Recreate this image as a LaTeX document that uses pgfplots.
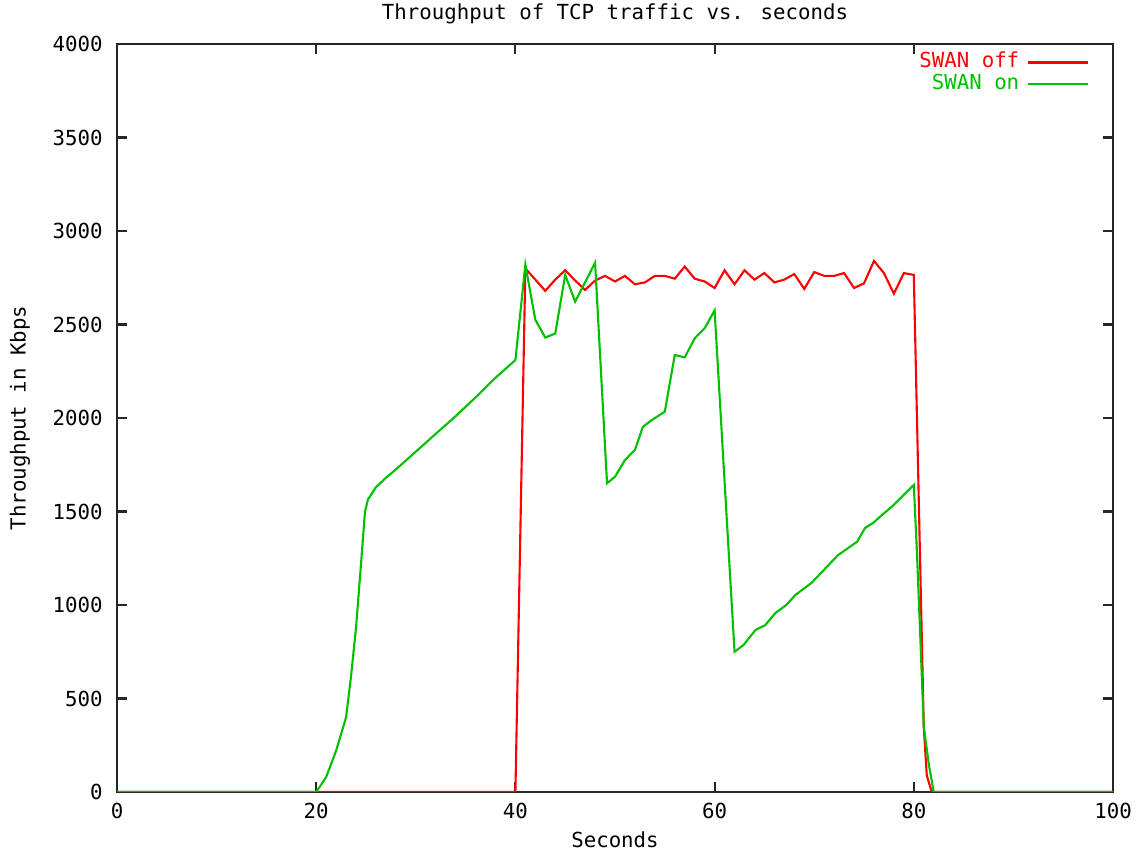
\documentclass[border=0pt]{standalone}
\usepackage{pgfplots}
\pgfplotsset{compat=1.18}
\usepackage{fontspec}
\setmainfont{DejaVu Sans Mono}
\definecolor{gpred}{RGB}{255,0,0}
\definecolor{gpgreen}{RGB}{0,192,0}
\begin{document}
\begin{tikzpicture}
\begin{axis}[
  name=ax,
  scale only axis,
  width=9.96cm,
  height=7.48cm,
  xmin=0, xmax=100,
  ymin=0, ymax=4000,
  xtick={0,20,...,100},
  ytick={0,500,...,4000},
  tick align=inside,
  major tick length=0.1cm,
  axis line style={line width=0.6pt, black!85},
  every tick/.style={line width=0.6pt, black!85},
  font=\fontsize{5.9}{7}\selectfont,
  /pgf/number format/assume math mode=true,
  /pgf/number format/1000 sep={},
  xticklabel style={yshift=0.01cm},
  yticklabel style={xshift=-0.02cm},
  title={Throughput of TCP traffic vs. seconds},
  every axis title/.style={at={(0.5,1)}, anchor=base, inner sep=0pt, yshift=0.24cm},
  xlabel={Seconds},
  every axis x label/.style={at={(0.5,0)}, anchor=base, inner sep=0pt, yshift=-0.56cm},
  ylabel={Throughput in Kbps},
  every axis y label/.style={at={(-0.0974,0.5)}, anchor=center, inner sep=0pt, rotate=90},
  legend cell align=right,
  legend plot pos=right,
  legend style={draw=none, fill=none, at={(0.987,1.003)}, anchor=north east,
    row sep=-1.15pt, nodes={inner sep=0.7pt},
    /tikz/every odd column/.append style={column sep=0.05cm},
    font=\fontsize{5.9}{7}\selectfont},
  legend image code/.code={\draw[#1] (0cm,0cm) -- (0.6cm,0cm);},
]
% SWAN off
\addplot[gpred, line width=0.6pt] coordinates {
  (0,0) (40,0) (41,2800) (42,2740) (43,2680) (44,2740) (45,2790) (46,2735)
  (47,2685) (48,2735) (49,2760) (50,2730) (51,2760) (52,2715) (53,2725)
  (54,2760) (55,2760) (56,2745) (57,2810) (58,2745) (59,2730) (60,2695)
  (61,2790) (62,2715) (63,2790) (64,2740) (65,2775) (66,2725) (67,2740)
  (68,2770) (69,2690) (70,2780) (71,2760) (72,2760) (73,2775) (74,2695)
  (75,2720) (76,2840) (77,2775) (78,2665) (79,2775) (80,2765)
  (81,350) (81.3,90) (81.8,0) (100,0)
};
\addlegendentry{\textcolor{gpred}{SWAN off}}
% SWAN on
\addplot[gpgreen, line width=0.6pt] coordinates {
  (0,0) (20,0) (21,80) (22,220) (23,400) (23.5,620) (24,880) (24.5,1220)
  (24.9,1500) (25.2,1565) (26,1630) (27,1680) (28,1725) (30,1820)
  (32,1915) (34,2010) (36,2110) (38,2215) (40,2310)
  (41,2820) (42,2525) (43,2430) (44,2452) (45,2765) (46,2622) (47,2726)
  (48,2830) (49.2,1651) (50,1686) (51,1775) (52,1829) (52.8,1953)
  (53.7,1989) (55,2034) (56,2337) (57,2324) (58,2426) (59,2480) (60,2575)
  (62,750) (62.9,786) (64.1,866) (65.1,893) (66.1,957) (67.2,1000)
  (68.1,1053) (69.7,1117) (72.4,1267) (74.3,1338) (75.1,1412) (75.9,1438)
  (76.8,1481) (77.8,1526) (80,1642)
  (80.3,1300) (80.6,900) (81,350) (81.5,150) (82,0) (100,0)
};
\addlegendentry{\textcolor{gpgreen}{SWAN on}}
\end{axis}
\path ([xshift=-1.17cm,yshift=-0.60cm]ax.south west)
  rectangle ([xshift=0.33cm,yshift=0.44cm]ax.north east);
\end{tikzpicture}
\end{document}
